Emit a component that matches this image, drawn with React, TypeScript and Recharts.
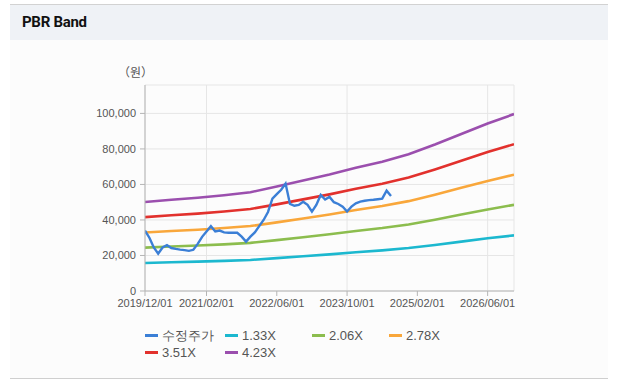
import React from "react";
import { LineChart, Line, XAxis, YAxis, CartesianGrid } from "recharts";

// x values are months counted from 2019/12/01
const xTickMonths = [0, 14, 30, 46, 62, 78];
const xTickLabels = ["2019/12/01", "2021/02/01", "2022/06/01", "2023/10/01", "2025/02/01", "2026/06/01"];
const yTicks = [0, 20000, 40000, 60000, 80000, 100000];

const bandMonths = [0, 6, 12, 18, 24, 30, 36, 42, 48, 54, 60, 66, 72, 78, 84];
const band133 = [15760, 16160, 16520, 16960, 17490, 18490, 19550, 20620, 21810, 22880, 24210, 25940, 27800, 29660, 31320];
const band206 = [24410, 25030, 25590, 26270, 27090, 28630, 30280, 31930, 33780, 35430, 37490, 40170, 43050, 45940, 48510];
const band278 = [32940, 33780, 34530, 35450, 36560, 38640, 40870, 43090, 45590, 47820, 50600, 54210, 58100, 61990, 65470];
const band351 = [41590, 42650, 43590, 44750, 46160, 48790, 51600, 54410, 57560, 60370, 63880, 68450, 73360, 78270, 82660];
const band423 = [50130, 51390, 52540, 53930, 55620, 58800, 62180, 65570, 69370, 72760, 76990, 82490, 88410, 94330, 99620];

// monthly adjusted price, month 0 .. 56
const priceValues = [
  34000, 30000, 24500, 21000, 24500, 25800, 24200, 23700, 23300, 23000,
  22600, 23200, 26500, 30500, 33500, 36500, 33500, 34000, 33000, 32800,
  32800, 32800, 30600, 27800, 30600, 33000, 36500, 40000, 44500, 52000,
  54500, 57000, 60500, 49000, 48000, 48500, 50300, 48500, 44700, 48500,
  54100, 51500, 53000, 50000, 49000, 47500, 44800, 47500, 49400, 50300,
  50800, 51200, 51400, 51700, 52000, 56500, 53500,
];

const seriesNames = ["수정주가", "1.33X", "2.06X", "2.78X", "3.51X", "4.23X"];
const seriesColors = ["#3b7fd6", "#1cb8cf", "#8cbd4e", "#f9a73b", "#e2312d", "#9b4fae"];

const priceData = priceValues.map((v, i) => ({ m: i, v }));
const bandSets = [band133, band206, band278, band351, band423];
const bandData = bandSets.map((arr) => arr.map((v, i) => ({ m: bandMonths[i], v })));

const FONT = "'Liberation Sans', Arial, sans-serif";

const legendCols = [0, 80, 167, 244];

function LegendBox() {
  return (
    <div style={{ position: "absolute", left: 145, top: 327, width: 360, height: 40, fontFamily: FONT, fontSize: 13, color: "#555" }}>
      {seriesNames.map((name, i) => {
        const row = Math.floor(i / 4);
        const col = i % 4;
        return (
          <div key={name} style={{ position: "absolute", left: legendCols[col], top: row * 17, height: 17, display: "flex", alignItems: "center", whiteSpace: "nowrap" }}>
            <span style={{ display: "inline-block", width: 13, height: 3, background: seriesColors[i], marginRight: 4 }} />
            <span>{name}</span>
          </div>
        );
      })}
    </div>
  );
}

export default function App() {
  return (
    <div style={{ position: "absolute", left: 0, top: 0, width: 618, height: 390, background: "#ffffff", overflow: "hidden" }}>
      <div style={{ position: "absolute", left: 10, top: 4, width: 598, height: 1, background: "#d2d2d2" }} />
      <div style={{ position: "absolute", left: 10, top: 5, width: 598, height: 35, background: "#eff2f6" }} />
      <div style={{ position: "absolute", left: 10, top: 40, width: 598, height: 338, background: "#fcfcfc" }} />
      <div style={{ position: "absolute", left: 10, top: 378, width: 598, height: 1, background: "#cfcfcf" }} />
      <div style={{ position: "absolute", left: 22, top: 13, fontFamily: "Roboto, sans-serif", fontWeight: 700, fontSize: 15, color: "#111", letterSpacing: -0.3 }}>
        PBR Band
      </div>
      <div style={{ position: "absolute", left: 118, top: 63, fontFamily: "'Noto Sans CJK KR', sans-serif", fontSize: 12, color: "#555" }}>
        （원）
      </div>
      <div style={{ position: "absolute", left: 0, top: 0 }}>
        <LineChart width={618} height={390} margin={{ top: 85, right: 104, bottom: 69, left: 85 }}>
          <CartesianGrid stroke="#e6e6e6" strokeWidth={1} />
          <XAxis
            dataKey="m"
            type="number"
            domain={[0, 84]}
            ticks={xTickMonths}
            tickFormatter={(v: number) => xTickLabels[xTickMonths.indexOf(v)] ?? ""}
            allowDataOverflow
            height={30}
            tickSize={5}
            tickMargin={3}
            stroke="#b5b5b5"
            tick={{ fill: "#555", fontSize: 11, fontFamily: FONT }}
          />
          <XAxis
            xAxisId="top"
            orientation="top"
            type="number"
            domain={[0, 84]}
            height={0}
            tick={false}
            tickLine={false}
            axisLine={{ stroke: "#cfcfcf" }}
          />
          <YAxis
            type="number"
            domain={[0, 116000]}
            ticks={yTicks}
            allowDataOverflow
            width={60}
            tickSize={5}
            tickMargin={4}
            stroke="#b5b5b5"
            tickFormatter={(v: number) => v.toLocaleString("en-US")}
            tick={{ fill: "#555", fontSize: 11, fontFamily: FONT }}
          />
          <YAxis
            yAxisId="right"
            orientation="right"
            width={0}
            tick={false}
            tickLine={false}
            axisLine={{ stroke: "#cfcfcf" }}
          />
          {bandData.map((d, i) => (
            <Line
              key={seriesNames[i + 1]}
              data={d}
              dataKey="v"
              name={seriesNames[i + 1]}
              stroke={seriesColors[i + 1]}
              strokeWidth={2.6}
              dot={false}
              type="linear"
              isAnimationActive={false}
            />
          ))}
          <Line
            data={priceData}
            dataKey="v"
            name={seriesNames[0]}
            stroke={seriesColors[0]}
            strokeWidth={2.4}
            dot={false}
            type="linear"
            isAnimationActive={false}
          />
        </LineChart>
      </div>
      <LegendBox />
    </div>
  );
}
